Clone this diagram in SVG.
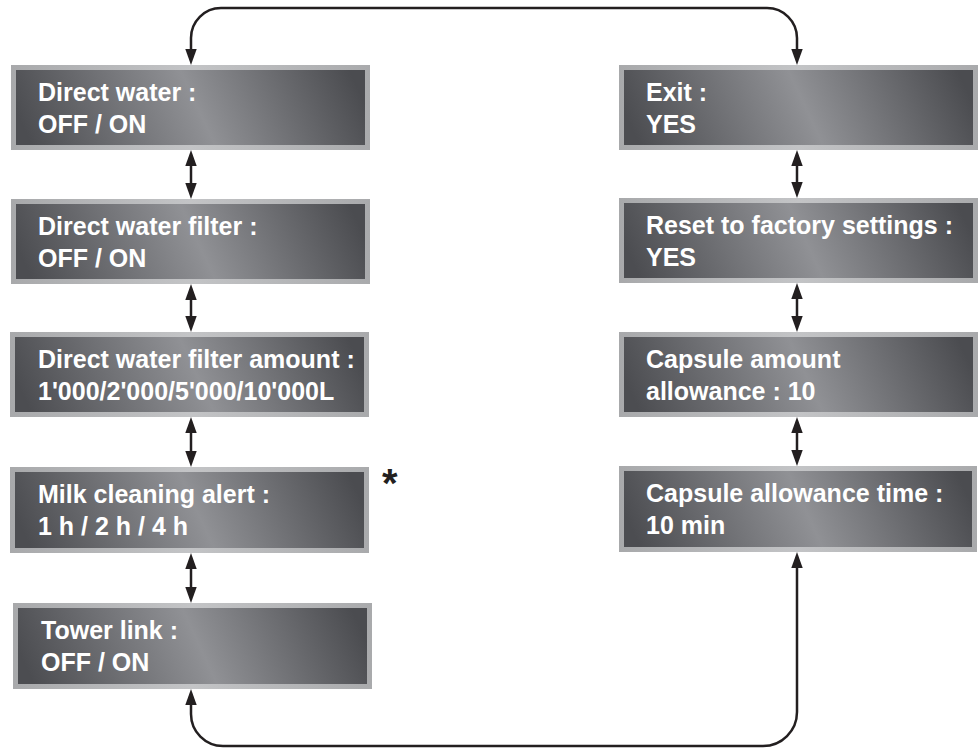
<svg xmlns="http://www.w3.org/2000/svg" width="979" height="749" viewBox="0 0 979 749">
  <defs>
    <linearGradient id="fillG" x1="0" y1="0.55" x2="1" y2="0.45">
      <stop offset="0" stop-color="#4c4d51"/>
      <stop offset="0.52" stop-color="#909195"/>
      <stop offset="1" stop-color="#4b4c50"/>
    </linearGradient>
    <linearGradient id="borderG" x1="0" y1="0" x2="1" y2="0">
      <stop offset="0" stop-color="#a8a9ab"/>
      <stop offset="0.5" stop-color="#c3c4c6"/>
      <stop offset="1" stop-color="#a9aaac"/>
    </linearGradient>
    <marker id="ah" markerUnits="userSpaceOnUse" markerWidth="16" markerHeight="12" refX="0" refY="5" orient="auto-start-reverse" viewBox="0 0 14 10">
      <path d="M0,0 L14,5 L0,10 z" fill="#231f20"/>
    </marker>
    <style>
      .outer { fill: url(#borderG); }
      .inner { fill: url(#fillG); }
      .lbl { font-family: "Liberation Sans", Arial, sans-serif; font-weight: bold; font-size: 25px; fill: #ffffff; }
      .conn { fill: none; stroke: #231f20; stroke-width: 2.5; marker-start: url(#ah); marker-end: url(#ah); }
      .star { font-family: "Liberation Sans", Arial, sans-serif; font-weight: bold; font-size: 40px; fill: #231f20; }
    </style>
  </defs>
  <rect width="979" height="749" fill="#ffffff"/>

  <g id="connectors">
    <path class="conn" d="M191,49 V38 A30,30 0 0 1 221,8 H767 A30,30 0 0 1 797,38 V49"/>
    <path class="conn" d="M191,705 V714 A32,32 0 0 0 223,746 H763 A34,34 0 0 0 797,712 V568"/>
    <line class="conn" x1="191" y1="166" x2="191" y2="183"/>
    <line class="conn" x1="191" y1="300" x2="191" y2="316"/>
    <line class="conn" x1="191" y1="433" x2="191" y2="451"/>
    <line class="conn" x1="191" y1="569" x2="191" y2="587"/>
    <line class="conn" x1="797" y1="166" x2="797" y2="182"/>
    <line class="conn" x1="797" y1="299" x2="797" y2="316"/>
    <line class="conn" x1="797" y1="433" x2="797" y2="450"/>
  </g>

  <g id="direct-water">
    <rect class="outer" x="11" y="65" width="359" height="85"/>
    <rect class="inner" x="16" y="70" width="349" height="75"/>
    <text class="lbl" x="38" y="101">Direct water :</text>
    <text class="lbl" x="38" y="133">OFF / ON</text>
  </g>

  <g id="direct-water-filter">
    <rect class="outer" x="11" y="199" width="359" height="85"/>
    <rect class="inner" x="16" y="204" width="349" height="75"/>
    <text class="lbl" x="38" y="235">Direct water filter :</text>
    <text class="lbl" x="38" y="267">OFF / ON</text>
  </g>

  <g id="direct-water-filter-amount">
    <rect class="outer" x="10" y="332" width="359" height="85"/>
    <rect class="inner" x="15" y="337" width="349" height="75"/>
    <text class="lbl" x="38" y="368">Direct water filter amount :</text>
    <text class="lbl" x="38" y="400">1'000/2'000/5'000/10'000L</text>
  </g>

  <g id="milk-cleaning-alert">
    <rect class="outer" x="10" y="467" width="359" height="86"/>
    <rect class="inner" x="15" y="472" width="349" height="76"/>
    <text class="lbl" x="38" y="503">Milk cleaning alert :</text>
    <text class="lbl" x="38" y="535">1 h / 2 h / 4 h</text>
  </g>

  <g id="tower-link">
    <rect class="outer" x="13" y="603" width="359" height="86"/>
    <rect class="inner" x="18" y="608" width="349" height="76"/>
    <text class="lbl" x="41" y="639">Tower link :</text>
    <text class="lbl" x="41" y="671">OFF / ON</text>
  </g>

  <g id="exit">
    <rect class="outer" x="619" y="65" width="359" height="85"/>
    <rect class="inner" x="624" y="70" width="349" height="75"/>
    <text class="lbl" x="646" y="101">Exit :</text>
    <text class="lbl" x="646" y="133">YES</text>
  </g>

  <g id="reset-factory">
    <rect class="outer" x="619" y="198" width="359" height="85"/>
    <rect class="inner" x="624" y="203" width="349" height="75"/>
    <text class="lbl" x="646" y="234">Reset to factory settings :</text>
    <text class="lbl" x="646" y="266">YES</text>
  </g>

  <g id="capsule-amount">
    <rect class="outer" x="619" y="332" width="359" height="85"/>
    <rect class="inner" x="624" y="337" width="349" height="75"/>
    <text class="lbl" x="646" y="368">Capsule amount</text>
    <text class="lbl" x="646" y="400">allowance : 10</text>
  </g>

  <g id="capsule-time">
    <rect class="outer" x="619" y="466" width="358" height="86"/>
    <rect class="inner" x="624" y="471" width="348" height="76"/>
    <text class="lbl" x="646" y="502">Capsule allowance time :</text>
    <text class="lbl" x="646" y="534">10 min</text>
  </g>

  <g id="asterisk">
    <text class="star" x="382" y="497">*</text>
  </g>
</svg>
